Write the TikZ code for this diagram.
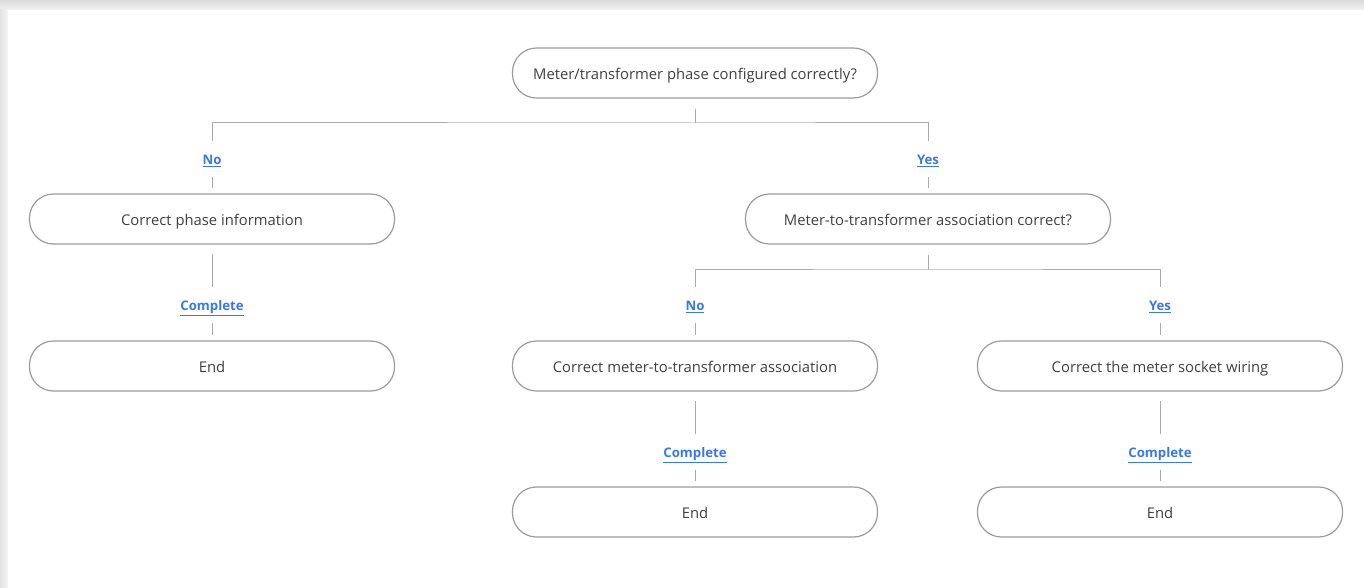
\documentclass[tikz,border=0pt]{standalone}
\usepackage{fontspec}
\setmainfont{Open Sans}
\usetikzlibrary{positioning}
\definecolor{linkblue}{HTML}{3B78E7}
\definecolor{edgegray}{HTML}{AAAAAA}
\definecolor{boxgray}{HTML}{9C9C9C}
\definecolor{txtgray}{HTML}{404040}

\begin{document}
\begin{tikzpicture}[
            x=1pt, y=-1pt,
            box/.style={
                draw=boxgray,
                line width=1.2pt,
                rounded corners=24pt,
                minimum width=365pt,
                minimum height=50pt,
                fill=white,
                text=txtgray,
                text height=14pt,
                text depth=0.5pt,
                font=\fontsize{14.8}{17}\selectfont
            },
            lbl/.style={
                inner sep=0pt,
                minimum height=35pt,
                text=linkblue,
                text height=11pt,
                text depth=0pt,
                font=\fontsize{13.2}{15}\selectfont\bfseries
            },
            conn/.style={
                draw=edgegray,
                line width=1pt
            }
        ]
            \useasboundingbox (0,0) rectangle (1364,588);
            \shade[top color=gray!28, bottom color=gray!12] (0,0) rectangle (1364,10);
            \shade[left color=gray!22, right color=gray!8] (0,10) rectangle (8,588);
            \fill[white] (8,10) rectangle (1364,588);

            % decision nodes
            \node[box] (q1) at (695,73) {Meter/transformer phase configured correctly?};
            \node[box] (a1) at (212,219) {Correct phase information};
            \node[box] (q2) at (928,219) {Meter-to-transformer association correct?};
            \node[box] (e1) at (212,366) {End};
            \node[box] (a2) at (695,366) {Correct meter-to-transformer association};
            \node[box] (a3) at (1160,366) {Correct the meter socket wiring};
            \node[box] (e2) at (695,512) {End};
            \node[box] (e3) at (1160,512) {End};

            % answer labels
            \node[lbl] (n1) at (212,159) {\underline{No}};
            \node[lbl] (y1) at (928,159) {\underline{Yes}};
            \node[lbl] (c1) at (212,305) {\underline{Complete}};
            \node[lbl] (n2) at (695,305) {\underline{No}};
            \node[lbl] (y2) at (1160,305) {\underline{Yes}};
            \node[lbl] (c2) at (695,452) {\underline{Complete}};
            \node[lbl] (c3) at (1160,452) {\underline{Complete}};

            \coordinate (j1) at (695,123);
            \coordinate (j2) at (928,269);

            \draw[conn, shorten <=10pt] (q1) -- (j1);
            \draw[conn] (n1) |- (j1) -| (y1);
            \draw[conn, shorten >=5pt] (n1) -- (a1);
            \draw[conn, shorten >=5pt] (y1) -- (q2);

            \draw[conn, shorten <=9pt] (a1) -- (c1);
            \draw[conn, shorten >=5pt] (c1) -- (e1);

            \draw[conn, shorten <=10pt] (q2) -- (j2);
            \draw[conn] (n2) |- (j2) -| (y2);
            \draw[conn, shorten >=5pt] (n2) -- (a2);
            \draw[conn, shorten >=5pt] (y2) -- (a3);

            \draw[conn, shorten <=9pt] (a2) -- (c2);
            \draw[conn, shorten >=5pt] (c2) -- (e2);
            \draw[conn, shorten <=9pt] (a3) -- (c3);
            \draw[conn, shorten >=5pt] (c3) -- (e3);
        \end{tikzpicture}
\end{document}
